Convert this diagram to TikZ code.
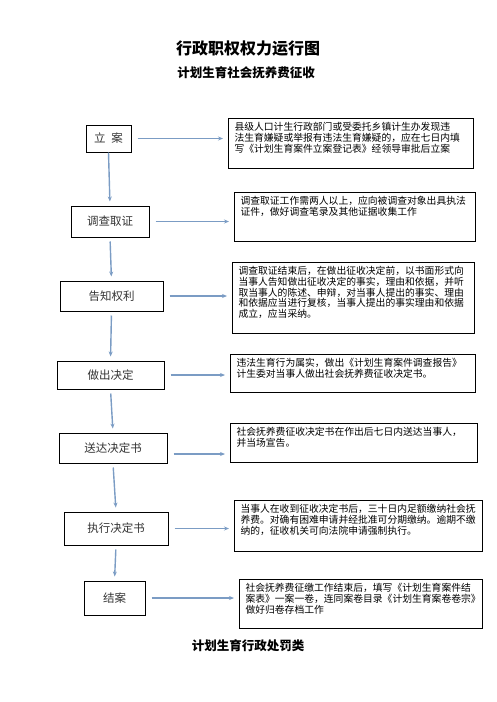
\documentclass[tikz,border=0pt]{standalone}
\usepackage{fontspec}
\setmainfont{Noto Sans CJK SC}
\usepackage{tikz}
\usetikzlibrary{arrows.meta, positioning}
\definecolor{flowBlue}{HTML}{7B9CC4}
\definecolor{boxText}{HTML}{333333}
\setlength{\parindent}{0pt}
\newcommand{\rtext}[3]{\parbox[t][#1][t]{#2}{\fontsize{9.8}{10.7}\selectfont #3}}

\begin{document}
\begin{tikzpicture}[x=1pt, y=-1pt, >={Stealth[length=5pt,width=4pt]},
  stage/.style={draw=black, line width=1pt, inner sep=0pt, font=\fontsize{11.5}{12}\selectfont, text=boxText},
  rbox/.style={draw=black, line width=1pt, anchor=north west, inner xsep=6pt, inner ysep=4pt, text=black},
  flow/.style={->, draw=flowBlue, line width=1.4pt, shorten <=4pt, shorten >=4pt},
  side/.style={->, draw=flowBlue, line width=1.4pt, shorten <=6pt, shorten >=5pt},
  title/.style={font=\bfseries\fontsize{16}{18}\selectfont}]
  \useasboundingbox (0,0) rectangle (496,702);

  % Titles
  \node[title] (t1) at (248,49) {行政职权权力运行图};
  \node[font=\bfseries\fontsize{12.5}{14}\selectfont] (t2) at (246,73) {计划生育社会抚养费征收};

  % Stages
  \node[stage, minimum width=45pt, minimum height=27pt] (la) at (108.5,138.5) {立\hspace{6pt}案};
  \node[stage, minimum width=78pt, minimum height=31pt] (dc) at (110,221.5) {调查取证};
  \node[stage, minimum width=103pt, minimum height=30pt] (gz) at (111.5,296) {告知权利};
  \node[stage, minimum width=107pt, minimum height=28pt] (zc) at (110.5,375) {做出决定};
  \node[stage, minimum width=108pt, minimum height=30pt] (sd) at (113,448) {送达决定书};
  \node[stage, minimum width=104pt, minimum height=33pt] (zx) at (116,528.5) {执行决定书};
  \node[stage, minimum width=61pt, minimum height=34pt] (ja) at (114.5,598) {结案};

  % Explanations
  \node[rbox] (r1) at (228,118) {\rtext{42pt}{233pt}{县级人口计生行政部门或受委托乡镇计生办发现违\\法生育嫌疑或举报有违法生育嫌疑的，应在七日内填\\写《计划生育案件立案登记表》经领导审批后立案}};
  \node[rbox] (r2) at (234,192) {\rtext{41pt}{229pt}{调查取证工作需两人以上，应向被调查对象出具执法\\证件，做好调查笔录及其他证据收集工作}};
  \node[rbox] (r3) at (232,262) {\rtext{63pt}{230pt}{调查取证结束后，在做出征收决定前，以书面形式向\\当事人告知做出征收决定的事实，理由和依据，并听\\取当事人的陈述、申辩，对当事人提出的事实、理由\\和依据应当进行复核，当事人提出的事实理由和依据\\成立，应当采纳。}};
  \node[rbox] (r4) at (230,354) {\rtext{30pt}{233pt}{违法生育行为属实，做出《计划生育案件调查报告》\\计生委对当事人做出社会抚养费征收决定书。}};
  \node[rbox] (r5) at (230,423) {\rtext{31pt}{235pt}{社会抚养费征收决定书在作出后七日内送达当事人，\\并当场宣告。}};
  \node[rbox] (r6) at (234,500) {\rtext{43pt}{236pt}{当事人在收到征收决定书后，三十日内足额缴纳社会抚\\养费。对确有困难申请并经批准可分期缴纳。逾期不缴\\纳的，征收机关可向法院申请强制执行。}};
  \node[rbox] (r7) at (239,579) {\rtext{41pt}{231pt}{社会抚养费征缴工作结束后，填写《计划生育案件结\\案表》一案一卷，连同案卷目录《计划生育案卷卷宗》\\做好归卷存档工作}};

  % Flow down
  \draw[flow, shorten <=0pt] (la.south) -- (dc.north);
  \draw[flow] (dc.south) -- (gz.north);
  \draw[flow] (gz.south) -- (zc.north);
  \draw[flow] (zc.south) -- (sd.north);
  \draw[flow] (sd.south) -- (zx.north);
  \draw[flow] (zx.south) -- (ja.north);

  % Flow to explanations
  \draw[side] (la.east) -- (la.east -| r1.west);
  \draw[side] (dc.east) -- (dc.east -| r2.west);
  \draw[side] (gz.east) -- (gz.east -| r3.west);
  \draw[side] (zc.east) -- (zc.east -| r4.west);
  \draw[side] ([yshift=-6pt]sd.east) -- ([yshift=-6pt]sd.east -| r5.west);
  \draw[side] (zx.east) -- (zx.east -| r6.west);
  \draw[side] (ja.east) -- (ja.east -| r7.west);

  \node[font=\bfseries\fontsize{12.5}{14}\selectfont] (t3) at (248,646) {计划生育行政处罚类};
\end{tikzpicture}
\end{document}
